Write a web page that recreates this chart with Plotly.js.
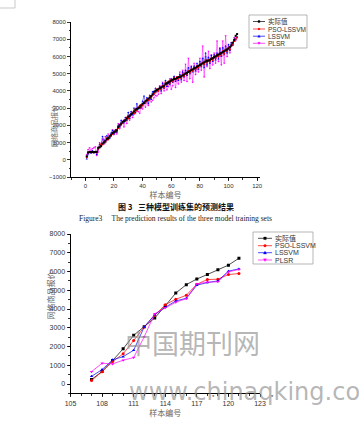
<!DOCTYPE html>
<html><head><meta charset="utf-8">
<script src="https://cdn.plot.ly/plotly-3.0.1.min.js"></script>
<style>html,body{margin:0;padding:0;background:#fff}#c{width:359px;height:421px}</style>
</head><body><div id="c"></div>
<script>
// ---------- training set (Figure 3) ----------
const trainSamples = [1,2,3,4,5,6,7,8,9,10,11,12,13,14,15,16,17,18,19,20,21,22,23,24,25,26,27,28,29,30,31,32,33,34,35,36,37,38,39,40,41,42,43,44,45,46,47,48,49,50,51,52,53,54,55,56,57,58,59,60,61,62,63,64,65,66,67,68,69,70,71,72,73,74,75,76,77,78,79,80,81,82,83,84,85,86,87,88,89,90,91,92,93,94,95,96,97,98,99,100,101,102,103,104,105,106];
const trainActual = [200,430,450,450,450,450,450,460,700,720,800,950,1000,1100,1200,1250,1350,1450,1550,1600,1650,1700,1900,2000,2100,2200,2250,2300,2400,2500,2550,2650,2700,2800,2900,2950,3000,3050,3150,3250,3300,3400,3450,3550,3600,3700,3800,3950,4000,4050,4100,4150,4200,4250,4300,4400,4450,4500,4550,4600,4650,4700,4700,4750,4800,4800,4850,4900,4950,5000,5050,5100,5150,5200,5250,5300,5350,5400,5450,5500,5550,5600,5650,5700,5750,5750,5800,5850,5900,5950,6000,6050,6100,6150,6200,6250,6300,6350,6400,6450,6550,6650,6800,6950,7200,7300];
const trainPSO = [150,420,430,440,430,440,450,420,650,760,900,880,1050,1000,1250,1180,1400,1380,1500,1650,1600,1750,1850,2050,2050,2150,2300,2250,2450,2400,2600,2600,2750,2700,2950,2850,3050,3000,3200,3150,3350,3300,3500,3450,3650,3600,3750,3850,3900,4100,4000,4200,4100,4300,4200,4500,4350,4550,4450,4650,4550,4750,4650,4800,4700,4850,4750,4950,4850,5050,4950,5150,5050,5250,5150,5350,5250,5450,5350,5550,5450,5650,5550,5800,5650,5800,5700,5900,5800,6000,5900,6100,6000,6200,6050,6300,6150,6400,6300,6500,6400,6600,6700,6900,7000,7100];
const trainLSSVM = [50,350,500,380,520,400,480,300,600,900,750,1350,1150,1000,1400,1300,1250,1550,1700,1500,1750,1600,2000,1900,2300,2100,2150,2450,2300,2750,2400,2800,2600,3000,2750,3250,2950,3150,3000,3400,3700,3350,3600,3250,3750,3500,3950,3800,4150,3950,4050,4250,4000,4450,4150,4600,4250,4450,4350,4700,4500,4850,4550,4800,4600,4950,4650,5100,4800,5200,4900,5350,5000,5400,5100,5450,5150,5600,5250,5700,5400,5900,5350,6200,5500,5950,5600,6050,5700,6100,5800,6200,5850,6450,6000,6500,6100,6600,6200,6700,6350,6800,6650,7000,7000,7150];
const trainPLSR = [300,600,700,550,650,700,750,250,450,1000,800,1200,900,1350,1100,1500,1300,1400,1750,1450,1650,1500,2100,1800,2000,2250,1900,2350,2100,2550,2300,2700,2450,2650,2700,3000,2800,2700,3200,2950,3300,3050,3450,3150,3500,3350,3450,3600,3750,3700,3800,4300,3850,4500,4000,4400,4050,4250,4700,4100,4300,4800,4200,4650,4400,5100,4500,5200,4600,5550,4550,5900,4700,5450,4500,5600,4950,5350,5100,5900,5200,6600,4800,6000,5400,6300,5300,6100,5500,6200,5600,6900,5700,6500,5500,6900,5600,7200,6000,6600,6200,6800,6700,7100,6900,7100];

// ---------- test set ----------
const testSamples = [107,108,109,110,111,112,113,114,115,116,117,118,119,120,121];
const testActual = [240,670,1250,1880,2600,3050,3520,4170,4850,5300,5600,5840,6100,6340,6710];
const testPSO = [190,660,1200,1610,2320,3040,3660,4230,4520,4730,5320,5570,5590,5840,5890];
const testLSSVM = [410,770,1290,1460,1800,3040,3700,4090,4430,4570,5270,5410,5500,6020,6140];
const testPLSR = [660,1110,1070,1270,1410,2520,3750,4070,4360,4550,5340,5430,5450,5980,6110];

const seriesNames = ['实际值','PSO-LSSVM','LSSVM','PLSR'];
const colors = ['#000000','#ff0000','#0000ff','#ff00ff'];
const symbols = ['square','circle','triangle-up','triangle-down'];

const traces = [];
const trainSets = [trainActual, trainPSO, trainLSSVM, trainPLSR];
const testSets = [testActual, testPSO, testLSSVM, testPLSR];
const trainOrder = [3, 2, 1, 0];
for (const k of trainOrder) {
  traces.push({x: trainSamples, y: trainSets[k], xaxis:'x', yaxis:'y', type:'scatter', mode:'lines+markers',
    name: seriesNames[k], showlegend:false, line:{color:colors[k], width:0.5},
    marker:{symbol:symbols[k], size:2, color:colors[k]}});
}
for (let k = 0; k < 4; k++) {
  traces.push({x: testSamples, y: testSets[k], xaxis:'x2', yaxis:'y2', type:'scatter', mode:'lines+markers',
    name: seriesNames[k], showlegend:false, line:{color:colors[k], width:0.7},
    marker:{symbol:symbols[k], size:3, color:colors[k]}});
}

const W = 359, H = 421;
const px = v => v / W, py = v => 1 - v / H;
const axBase = {showline:true, linecolor:'#000', linewidth:1, mirror:false, showgrid:false, zeroline:false,
  ticks:'outside', tickcolor:'#000', tickwidth:0.8, color:'#333'};

const shapes = [
  {type:'path', xref:'paper', yref:'paper', path:`M 0 ${py(8)} L ${px(15)} ${py(8)} L ${px(15)} 1`, line:{color:'#bbb', width:0.8}}
];
const annotations = [];

// hand-drawn legend boxes (Origin-style compact legends)
function drawLegend(x0, y0, x1, y1, rowYs, lineX0, lineX1, textX, fontSize, mk) {
  shapes.push({type:'rect', xref:'paper', yref:'paper', x0:px(x0), x1:px(x1), y0:py(y1), y1:py(y0),
    line:{color:'#999', width:0.7}, fillcolor:'#fff', layer:'above'});
  rowYs.forEach((ry, k) => {
    shapes.push({type:'line', xref:'paper', yref:'paper', x0:px(lineX0), x1:px(lineX1), y0:py(ry), y1:py(ry),
      line:{color:colors[k], width:0.7}, layer:'above'});
    const cx = (lineX0 + lineX1) / 2, r = mk;
    let path;
    if (symbols[k] === 'square') path = `M ${px(cx-r)} ${py(ry-r)} L ${px(cx+r)} ${py(ry-r)} L ${px(cx+r)} ${py(ry+r)} L ${px(cx-r)} ${py(ry+r)} Z`;
    else if (symbols[k] === 'circle') path = null;
    else if (symbols[k] === 'triangle-up') path = `M ${px(cx)} ${py(ry-r-0.3)} L ${px(cx+r+0.3)} ${py(ry+r)} L ${px(cx-r-0.3)} ${py(ry+r)} Z`;
    else path = `M ${px(cx)} ${py(ry+r+0.3)} L ${px(cx+r+0.3)} ${py(ry-r)} L ${px(cx-r-0.3)} ${py(ry-r)} Z`;
    if (path) shapes.push({type:'path', xref:'paper', yref:'paper', path, fillcolor:colors[k], line:{color:colors[k], width:0.3}, layer:'above'});
    else shapes.push({type:'circle', xref:'paper', yref:'paper', x0:px(cx-r), x1:px(cx+r), y0:py(ry+r), y1:py(ry-r), fillcolor:colors[k], line:{color:colors[k], width:0.3}, layer:'above'});
    annotations.push({text: seriesNames[k], xref:'paper', yref:'paper', x:px(textX), y:py(ry), xanchor:'left', yanchor:'middle',
      showarrow:false, font:{size:fontSize, color:'#333', family: k === 0 ? 'Noto Sans CJK SC' : 'Liberation Sans, Arial, sans-serif'}});
  });
}
drawLegend(249, 15, 307, 48, [21.5, 29, 36.2, 43.3], 253, 265, 266, 6.5, 1);
drawLegend(253, 232, 313, 264, [238.3, 245.7, 252.7, 260], 258, 272, 273, 7, 1.3);

annotations.push(
  {text:'网络商品报价', xref:'paper', yref:'paper', x:px(47), y:py(103), textangle:-90, showarrow:false,
    font:{size:7, family:'Noto Sans CJK SC', color:'#666'}},
  {text:'网络商品报价', xref:'paper', yref:'paper', x:px(42), y:py(322), textangle:-90, showarrow:false,
    font:{size:8, family:'Noto Sans CJK SC', color:'#666'}},
  {text:'<b>图 3   三种模型训练集的预测结果</b>', xref:'paper', yref:'paper', x:px(176), y:py(206), showarrow:false,
    font:{size:8, family:'Noto Sans CJK SC', color:'#111'}},
  {text:'Figure3     The prediction results of the three model training sets', xref:'paper', yref:'paper', x:px(175), y:py(219), showarrow:false,
    font:{size:7.5, family:'Liberation Serif, Times New Roman, serif', color:'#222'}},
  {text:'中国期刊网', xref:'paper', yref:'paper', x:px(192), y:py(364), showarrow:false,
    font:{size:27, family:'Noto Sans CJK SC', color:'rgba(140,140,140,0.65)'}},
  {text:'www.chinaqking.com', xref:'paper', yref:'paper', x:px(127), y:py(408), xanchor:'left', showarrow:false,
    font:{size:24, family:'DejaVu Sans, sans-serif', color:'rgba(140,140,140,0.65)'}},
  {text:'*', xref:'paper', yref:'paper', x:px(213), y:py(402), showarrow:false, font:{size:6, color:'#333'}},
  {text:'*', xref:'paper', yref:'paper', x:px(276), y:py(402), showarrow:false, font:{size:6, color:'#333'}}
);

const layout = {
  width: W, height: H, margin:{l:0,r:0,t:0,b:0}, paper_bgcolor:'#fff', plot_bgcolor:'#fff', showlegend:false,
  font:{family:'Liberation Sans, Arial, sans-serif', color:'#333'},
  xaxis: Object.assign({}, axBase, {domain:[px(71), px(260)], range:[-10,122], tickvals:[0,20,40,60,80,100,120],
    ticklen:3, tickfont:{size:6}, minor:{dtick:10, ticklen:1.5, tickcolor:'#000', ticks:'outside'}, anchor:'y',
    title:{text:'样本编号', font:{size:8, family:'Noto Sans CJK SC', color:'#666'}, standoff:2}}),
  yaxis: Object.assign({}, axBase, {domain:[py(177), py(22)], range:[-1000,8000], dtick:1000,
    ticklen:3, tickfont:{size:6}, minor:{dtick:500, ticklen:1.5, tickcolor:'#000', ticks:'outside'}, anchor:'x'}),
  xaxis2: Object.assign({}, axBase, {domain:[px(70.5), px(260)], range:[105,123], tickvals:[105,108,111,114,117,120,123],
    ticklen:3, tickfont:{size:7}, minor:{dtick:1, ticklen:1.5, tickcolor:'#000', ticks:'outside'}, anchor:'y2',
    title:{text:'样本编号', font:{size:8, family:'Noto Sans CJK SC', color:'#666'}, standoff:2}}),
  yaxis2: Object.assign({}, axBase, {domain:[py(393.4), py(234)], range:[-500,8000], tickvals:[0,1000,2000,3000,4000,5000,6000,7000,8000],
    ticklen:3, tickfont:{size:7}, minor:{dtick:500, ticklen:1.5, tickcolor:'#000', ticks:'outside'}, anchor:'x2'}),
  shapes, annotations
};

Plotly.newPlot('c', traces, layout, {displayModeBar:false, staticPlot:true});
</script>
</body></html>
